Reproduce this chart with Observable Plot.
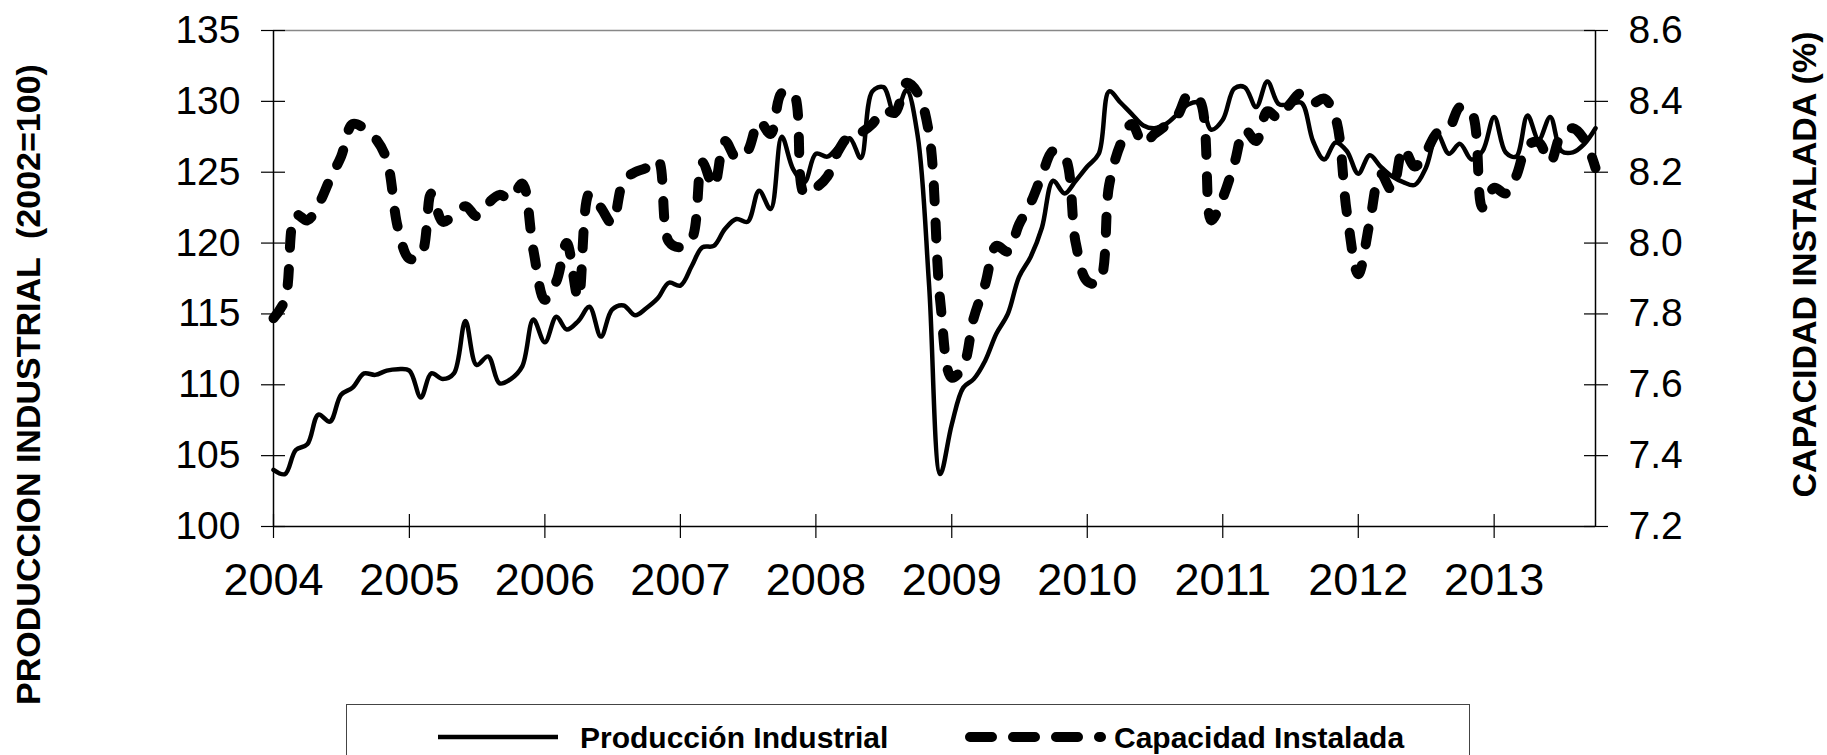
<!DOCTYPE html>
<html><head><meta charset="utf-8">
<script src="https://cdn.jsdelivr.net/npm/d3@7"></script>
<script src="https://cdn.jsdelivr.net/npm/@observablehq/plot@0.6"></script>
<style>
body{margin:0;background:#fff;}
#wrap{position:relative;width:1827px;height:755px;overflow:hidden;font-family:"Liberation Sans",Arial,sans-serif;}
#legend{position:absolute;left:346px;top:704px;width:1124px;height:70px;border:1px solid #444;box-sizing:border-box;background:#fff;}
</style></head><body><div id="wrap"></div>
<script>
// Monthly data, Jan 2004 – Oct 2013
const produccion = [
104.0,103.7,105.4,105.8,107.9,107.4,109.3,109.8,110.8,110.7,111.0,111.1,
111.0,109.1,110.8,110.4,110.8,114.5,111.4,112.0,110.1,110.4,111.3,114.6,
113.0,114.8,113.9,114.5,115.5,113.4,115.3,115.6,114.9,115.4,116.1,117.2,
117.0,118.4,119.7,119.8,121.0,121.7,121.5,123.7,122.4,127.5,125.2,124.3,
126.3,126.1,126.8,127.4,126.0,130.7,131.0,129.0,130.8,127.6,117.0,103.7,
107.2,109.8,110.4,111.7,113.6,115.0,117.6,119.0,121.1,124.4,123.5,124.4,
125.4,126.3,130.7,129.9,129.1,128.3,128.1,128.4,129.1,129.8,129.9,128.0,
128.7,130.9,131.0,129.6,131.4,129.8,129.8,129.9,127.2,125.9,127.1,126.5,
124.9,126.2,125.4,124.7,124.3,124.1,125.3,127.7,126.3,127.0,125.9,126.5,
128.9,126.4,126.1,129.0,127.3,128.9,126.5,126.4,127.0,128.1
];
const capacidad = [
7.788,7.840,8.080,8.064,8.108,8.180,8.244,8.336,8.324,8.296,8.236,8.044,
7.956,7.964,8.140,8.060,8.080,8.104,8.076,8.112,8.136,8.124,8.168,7.980,
7.840,7.892,8.000,7.844,8.140,8.100,8.056,8.176,8.200,8.212,8.236,8.004,
7.988,8.012,8.228,8.160,8.288,8.240,8.260,8.344,8.308,8.424,8.424,8.140,
8.156,8.188,8.260,8.304,8.312,8.336,8.376,8.368,8.452,8.424,8.308,7.836,
7.620,7.652,7.788,7.884,7.992,7.976,8.052,8.112,8.192,8.260,8.244,8.000,
7.892,7.888,8.164,8.280,8.336,8.280,8.308,8.332,8.360,8.420,8.400,8.064,
8.128,8.224,8.320,8.288,8.372,8.352,8.392,8.424,8.396,8.408,8.352,8.088,
7.912,8.060,8.196,8.148,8.268,8.216,8.256,8.312,8.324,8.384,8.370,8.100,
8.156,8.140,8.188,8.276,8.284,8.228,8.308,8.324,8.292,8.212
];
const years = [2004,2005,2006,2007,2008,2009,2010,2011,2012,2013];
const leftTicks = [100,105,110,115,120,125,130,135];
const rightTicks = [7.2,7.4,7.6,7.8,8.0,8.2,8.4,8.6];
const leftTitle = "PRODUCCION INDUSTRIAL  (2002=100)";
const rightTitle = "CAPACIDAD INSTALADA (%)";
const seriesNames = ["Producción Industrial", "Capacidad Instalada"];

const dates = d3.utcMonth.range(new Date(Date.UTC(2004,0,1)), new Date(Date.UTC(2013,10,1)));
const data = dates.map((d,i) => ({date:d, prod:produccion[i], cap:capacidad[i]}));
// map right-axis (%) values onto the left scale
const toLeft = v => 100 + (v - 7.2) * (35 / 1.4);
const fromLeft = v => 7.2 + (v - 100) * (1.4 / 35);

const x0 = dates[0], x1 = dates[dates.length-1];
const font = "Liberation Sans, Arial, sans-serif";

const chart = Plot.plot({
  width: 1827, height: 704,
  marginLeft: 273, marginRight: 232, marginTop: 30, marginBottom: 178,
  x: {type: "utc", domain: [x0, x1]},
  y: {domain: [100, 135]},
  style: {fontFamily: font, color: "#000", background: "#fff", overflow: "visible"},
  marks: [
    Plot.ruleY([135], {stroke: "#888", strokeWidth: 1.5}),
    Plot.ruleY([100], {stroke: "#000", strokeWidth: 1.5}),
    Plot.ruleX([x0], {stroke: "#000", strokeWidth: 1.5}),
    Plot.ruleX([x1], {stroke: "#000", strokeWidth: 1.5}),
    Plot.axisY(leftTicks, {anchor: "left", tickSize: 24, dx: 12, tickPadding: 21, fontSize: 39, label: null, strokeWidth: 1.2}),
    Plot.axisY(rightTicks.map(toLeft), {anchor: "right", tickSize: 24, dx: -12, tickPadding: 21, fontSize: 39, label: null, strokeWidth: 1.2,
      tickFormat: v => fromLeft(v).toFixed(1)}),
    Plot.axisX(years.map(y => new Date(Date.UTC(y,0,1))), {anchor: "bottom", tickSize: 24, dy: -12, tickPadding: 25, fontSize: 45, label: null, strokeWidth: 1.2,
      tickFormat: d => String(d.getUTCFullYear())}),
    Plot.line(data, {x: "date", y: "prod", curve: "catmull-rom", stroke: "#000", strokeWidth: 4.5, strokeLinejoin: "round"}),
    Plot.line(data, {x: "date", y: d => toLeft(d.cap), curve: "catmull-rom", stroke: "#000", strokeWidth: 10,
      strokeDasharray: "16 21", strokeLinecap: "round", strokeLinejoin: "round"}),
    Plot.text([leftTitle], {frameAnchor: "left", rotate: -90, dx: 29 - 273, dy: 384 - 278, fontSize: 34, fontWeight: "bold",
      textAnchor: "middle", lineAnchor: "middle"}),
    Plot.text([rightTitle], {frameAnchor: "right", rotate: -90, dx: 1805 - 1595, dy: 264 - 278, fontSize: 34, fontWeight: "bold",
      textAnchor: "middle", lineAnchor: "middle"})
  ]
});
const wrap = document.getElementById("wrap");
wrap.appendChild(chart);

// Legend below the plot
const leg = document.createElement("div");
leg.id = "legend";
wrap.appendChild(leg);
const ls = d3.select(leg).append("svg").attr("width", 1124).attr("height", 70).style("display","block");
ls.append("line").attr("x1", 91).attr("x2", 211).attr("y1", 32).attr("y2", 32)
  .attr("stroke", "#000").attr("stroke-width", 4.5);
ls.append("text").attr("x", 233).attr("y", 43).text(seriesNames[0])
  .attr("font-family", font).attr("font-weight", "bold").attr("font-size", 30);
ls.append("line").attr("x1", 623).attr("x2", 754).attr("y1", 32).attr("y2", 32)
  .attr("stroke", "#000").attr("stroke-width", 10).attr("stroke-linecap", "round").attr("stroke-dasharray", "22 21");
ls.append("text").attr("x", 767).attr("y", 43).text(seriesNames[1])
  .attr("font-family", font).attr("font-weight", "bold").attr("font-size", 30);
</script></body></html>
